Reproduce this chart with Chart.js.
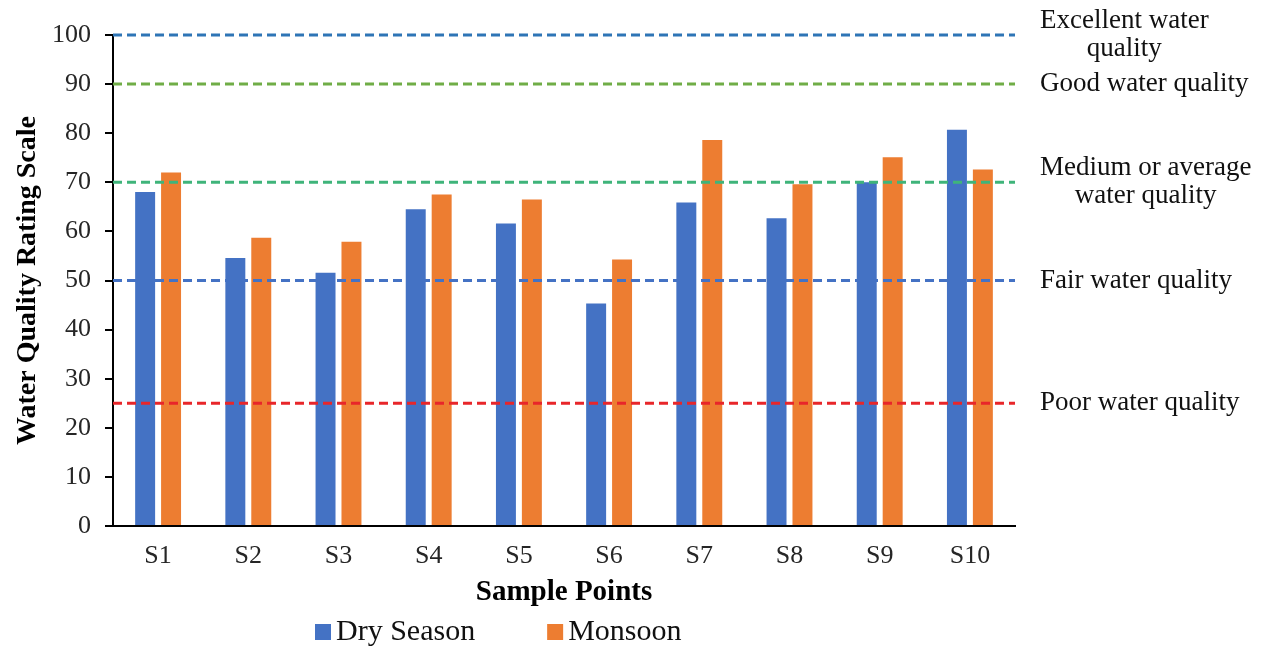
<!DOCTYPE html>
<html>
<head>
<meta charset="utf-8">
<script src="https://cdn.jsdelivr.net/npm/chart.js@4.4.0/dist/chart.umd.min.js"></script>
<style>
  html, body { margin: 0; padding: 0; background: #fff; }
  #wrap { width: 1264px; height: 646px; }
</style>
</head>
<body>
<div id="wrap"><canvas id="wqiChart"></canvas></div>
<script>
    const samplePoints = ['S1', 'S2', 'S3', 'S4', 'S5', 'S6', 'S7', 'S8', 'S9', 'S10'];
    const drySeason = [68.0, 54.6, 51.6, 64.5, 61.6, 45.3, 65.9, 62.7, 70.0, 80.7];
    const monsoon = [72.0, 58.7, 57.9, 67.5, 66.5, 54.3, 78.6, 69.6, 75.1, 72.6];
    const yTicks = [0, 10, 20, 30, 40, 50, 60, 70, 80, 90, 100];

    // rating bands shown as dashed lines with a note on the right
    const bandValues = [100, 90, 70, 50, 25];
    const bandLabels = [
        ['Excellent water', 'quality'],
        ['Good water quality'],
        ['Medium or average', 'water quality'],
        ['Fair water quality'],
        ['Poor water quality']
    ];
    const bandColors = ['#2E75B6', '#70AD47', '#3FB47A', '#4472C4', '#E8262A'];

    const serif = 'Liberation Serif';

    const bandLines = {
        id: 'bandLines',
        afterDatasetsDraw(chart) {
            const { ctx, chartArea } = chart;
            const y = chart.scales.y;
            ctx.save();
            bandValues.forEach((v, i) => {
                const py = y.getPixelForValue(v);
                ctx.beginPath();
                ctx.setLineDash([9, 5]);
                ctx.lineWidth = 3;
                ctx.strokeStyle = bandColors[i];
                ctx.moveTo(chartArea.left, py);
                ctx.lineTo(chartArea.right, py);
                ctx.stroke();

                ctx.setLineDash([]);
                ctx.font = '27px "' + serif + '"';
                ctx.fillStyle = '#111';
                ctx.textBaseline = 'middle';
                ctx.textAlign = 'center';
                const lines = bandLabels[i];
                const maxW = Math.max(...lines.map(t => ctx.measureText(t).width));
                const cx = chartArea.right + 25 + maxW / 2;
                const lh = 28;
                const top = py - (lines.length - 1) * lh / 2;
                lines.forEach((t, k) => ctx.fillText(t, cx, top + k * lh));
            });
            ctx.restore();
        },
        afterDraw(chart) {
            // legend row under the axis title
            const { ctx, chartArea } = chart;
            let x = chartArea.left + 202;
            const cy = 632;
            ctx.save();
            ctx.font = '30px "' + serif + '"';
            ctx.textBaseline = 'middle';
            ctx.textAlign = 'left';
            chart.data.datasets.forEach(ds => {
                ctx.fillStyle = ds.backgroundColor;
                ctx.fillRect(x, cy - 8, 16, 16);
                ctx.fillStyle = '#111';
                ctx.fillText(ds.label, x + 21, cy);
                x += 21 + ctx.measureText(ds.label).width + 72;
            });
            ctx.restore();
        }
    };

    const ctxChart = document.getElementById('wqiChart');
    new Chart(ctxChart, {
        type: 'bar',
        data: {
            labels: samplePoints,
            datasets: [{
                label: 'Dry Season',
                data: drySeason,
                backgroundColor: '#4472C4',
                categoryPercentage: 0.575,
                barPercentage: 0.77
            }, {
                label: 'Monsoon',
                data: monsoon,
                backgroundColor: '#ED7D31',
                categoryPercentage: 0.575,
                barPercentage: 0.77
            }]
        },
        options: {
            responsive: true,
            maintainAspectRatio: false,
            animation: false,
            layout: {
                padding: { top: 35, right: 249, left: 0, bottom: 36 }
            },
            scales: {
                x: {
                    grid: { display: false, drawTicks: false },
                    border: { display: true, color: '#000', width: 2 },
                    ticks: {
                        color: '#262626',
                        font: { family: serif, size: 26 },
                        padding: 15
                    },
                    title: {
                        display: true,
                        text: 'Sample Points',
                        color: '#000',
                        font: { family: serif, size: 29, weight: 'bold' },
                        padding: { top: 4, bottom: 0 }
                    },
                    afterFit(scale) { scale.height = 84; }
                },
                y: {
                    min: 0,
                    max: 100,
                    afterBuildTicks(scale) {
                        scale.ticks = yTicks.map(v => ({ value: v }));
                    },
                    ticks: {
                        color: '#262626',
                        font: { family: serif, size: 26 },
                        padding: 14
                    },
                    grid: {
                        drawOnChartArea: false,
                        drawTicks: true,
                        tickLength: 8,
                        color: '#000',
                        lineWidth: 2
                    },
                    border: { display: true, color: '#000', width: 2 },
                    title: {
                        display: true,
                        text: 'Water Quality Rating Scale',
                        color: '#000',
                        font: { family: serif, size: 28, weight: 'bold' },
                        padding: { top: 11, bottom: 0 }
                    },
                    afterFit(scale) { scale.width = 113; }
                }
            },
            plugins: {
                legend: { display: false },
                tooltip: { enabled: false }
            }
        },
        plugins: [bandLines]
    });
</script>
</body>
</html>
